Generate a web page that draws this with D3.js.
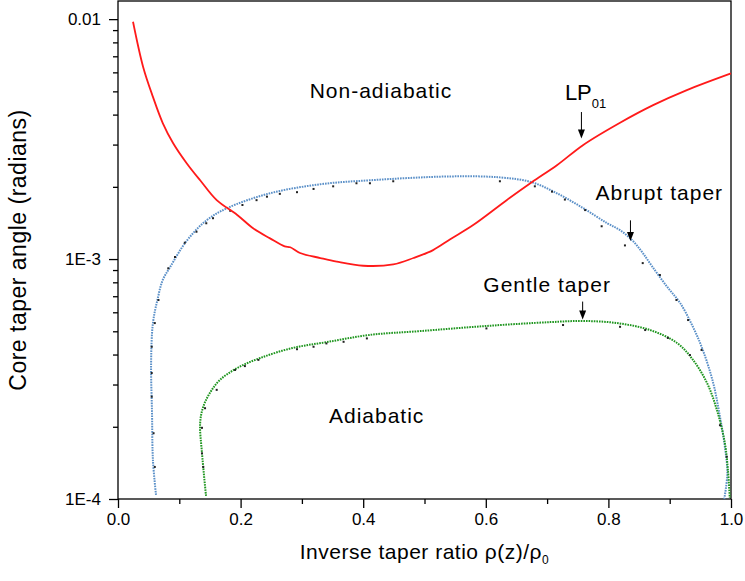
<!DOCTYPE html>
<html lang="en">
<head>
  <meta charset="UTF-8">
  <title>Core taper angle vs inverse taper ratio</title>
  <style>
    body { margin: 0; background: #fff; }
    svg { display: block; font-family: Arial, "Liberation Sans", sans-serif; }
    .axis path, .axis line { stroke: #000; stroke-width: 1.3; }
    .axis text { font-size: 17px; fill: #000; }
    .note { font-size: 21px; letter-spacing: 1px; fill: #000; }
  </style>
</head>
<body>
<div id="chart"></div>
<script src="https://d3js.org/d3.v7.min.js"></script>
<script>
// LP01 (red) - delineation curve
const lp01X = [0.0245, 0.041, 0.057, 0.073, 0.090, 0.112, 0.134, 0.161, 0.194, 0.221, 0.248, 0.272, 0.281, 0.297, 0.330, 0.357, 0.400, 0.449, 0.482, 0.514, 0.542, 0.580, 0.634, 0.675, 0.716, 0.759, 0.819, 0.873, 0.928, 1.0];
const lp01Y = [0.00975, 0.00632, 0.00474, 0.00369, 0.00304, 0.00251, 0.00213, 0.00176, 0.00153, 0.00134, 0.00122, 0.00113, 0.00112, 0.00106, 0.00101, 0.000975, 0.000938, 0.00095, 0.00101, 0.00109, 0.00121, 0.00139, 0.00176, 0.00209, 0.00246, 0.00299, 0.00370, 0.00438, 0.00506, 0.00594];

// abrupt taper (blue dotted)
const abruptX = [0.062, 0.057, 0.0555, 0.054, 0.057, 0.065, 0.073, 0.085, 0.113, 0.145, 0.178, 0.248, 0.330, 0.411, 0.542, 0.623, 0.675, 0.716, 0.759, 0.798, 0.819, 0.8385, 0.855, 0.871, 0.896, 0.917, 0.938, 0.954, 0.971, 0.982, 0.990, 0.994, 0.989];
const abruptY = [1.04e-4, 1.45e-4, 2.28e-4, 3.69e-4, 5.41e-4, 6.88e-4, 8.18e-4, 9.26e-4, 1.20e-3, 1.454e-3, 1.63e-3, 1.88e-3, 2.05e-3, 2.13e-3, 2.21e-3, 2.19e-3, 2.09e-3, 1.88e-3, 1.63e-3, 1.41e-3, 1.32e-3, 1.20e-3, 1.069e-3, 9.35e-4, 7.65e-4, 6.56e-4, 5.21e-4, 4.18e-4, 3.04e-4, 2.20e-4, 1.65e-4, 1.28e-4, 1.0e-4];

// gentle taper (green dotted)
const gentleX = [0.1436, 0.137, 0.134, 0.139, 0.150, 0.166, 0.194, 0.232, 0.285, 0.341, 0.411, 0.493, 0.600, 0.705, 0.759, 0.814, 0.868, 0.912, 0.938, 0.961, 0.977, 0.990, 0.995, 0.998];
const gentleY = [1.03e-4, 1.555e-4, 2.07e-4, 2.42e-4, 2.77e-4, 3.13e-4, 3.51e-4, 3.87e-4, 4.26e-4, 4.51e-4, 4.83e-4, 5.01e-4, 5.26e-4, 5.46e-4, 5.52e-4, 5.41e-4, 5.06e-4, 4.47e-4, 3.80e-4, 3.04e-4, 2.35e-4, 1.71e-4, 1.32e-4, 1.01e-4];

// measured points (small black dots)
const abruptPtsX = [0.055, 0.055, 0.055, 0.058, 0.060, 0.060, 0.066, 0.082, 0.093, 0.109, 0.128, 0.144, 0.155, 0.183, 0.203, 0.226, 0.243, 0.264, 0.292, 0.319, 0.351, 0.389, 0.411, 0.449, 0.623, 0.680, 0.708, 0.729, 0.762, 0.789, 0.827, 0.856, 0.884, 0.911, 0.930, 0.952, 0.982, 0.993];
const abruptPtsY = [4.31e-4, 3.35e-4, 2.67e-4, 1.88e-4, 1.36e-4, 5.41e-4, 6.75e-4, 9.15e-4, 1.02e-3, 1.17e-3, 1.30e-3, 1.41e-3, 1.48e-3, 1.59e-3, 1.68e-3, 1.76e-3, 1.82e-3, 1.87e-3, 1.90e-3, 1.96e-3, 2.01e-3, 2.07e-3, 2.07e-3, 2.11e-3, 2.11e-3, 2.01e-3, 1.91e-3, 1.77e-3, 1.60e-3, 1.37e-3, 1.14e-3, 9.62e-4, 8.58e-4, 6.75e-4, 5.57e-4, 4.18e-4, 2.03e-4, 1.50e-4];
const gentlePtsX = [0.139, 0.137, 0.137, 0.142, 0.161, 0.191, 0.207, 0.229, 0.292, 0.319, 0.340, 0.368, 0.406, 0.601, 0.726, 0.819, 0.860, 0.897, 0.933];
const gentlePtsY = [1.36e-4, 1.55e-4, 1.98e-4, 2.39e-4, 2.85e-4, 3.45e-4, 3.58e-4, 3.80e-4, 4.21e-4, 4.31e-4, 4.45e-4, 4.52e-4, 4.67e-4, 5.14e-4, 5.31e-4, 5.22e-4, 5.06e-4, 4.69e-4, 3.98e-4];

// axis ticks
const xMajor = [0, 0.2, 0.4, 0.6, 0.8, 1.0];
const xMinor = [0.1, 0.3, 0.5, 0.7, 0.9];
const yMajor = [1e-4, 1e-3, 1e-2];
const yMajorLabels = ["1E-4", "1E-3", "0.01"];
const yMinor = [2e-4, 3e-4, 4e-4, 5e-4, 6e-4, 7e-4, 8e-4, 9e-4, 2e-3, 3e-3, 4e-3, 5e-3, 6e-3, 7e-3, 8e-3, 9e-3];

const width = 745, height = 581;
const margin = { top: 1, right: 14, bottom: 82, left: 118 };

const svg = d3.select('#chart').append('svg')
  .attr('width', width)
  .attr('height', height);

const x = d3.scaleLinear().domain([0, 1]).range([margin.left, width - margin.right]);
const y = d3.scaleLog().domain([1e-4, 0.0119]).range([height - margin.bottom, margin.top]);

// axes
svg.append('g').attr('class', 'axis')
  .attr('transform', `translate(0,${height - margin.bottom})`)
  .call(d3.axisBottom(x).tickValues(xMajor).tickFormat(d3.format('.1f')).tickSize(9).tickPadding(5));
svg.append('g').attr('class', 'axis')
  .attr('transform', `translate(0,${height - margin.bottom})`)
  .call(d3.axisBottom(x).tickValues(xMinor).tickFormat('').tickSize(5));
svg.append('g').attr('class', 'axis')
  .attr('transform', `translate(${margin.left},0)`)
  .call(d3.axisLeft(y).tickValues(yMajor).tickFormat((d, i) => yMajorLabels[i]).tickSize(9).tickPadding(8));
svg.append('g').attr('class', 'axis')
  .attr('transform', `translate(${margin.left},0)`)
  .call(d3.axisLeft(y).tickValues(yMinor).tickFormat('').tickSize(5));
svg.selectAll('.axis .domain').remove();

// frame
svg.append('rect')
  .attr('x', margin.left).attr('y', margin.top)
  .attr('width', width - margin.right - margin.left)
  .attr('height', height - margin.bottom - margin.top)
  .attr('fill', 'none').attr('stroke', '#000').attr('stroke-width', 1.3);

// curves
const line = d3.line().x(d => x(d[0])).y(d => y(d[1])).curve(d3.curveCatmullRom.alpha(0.5));

svg.append('path')
  .datum(d3.zip(abruptX, abruptY))
  .attr('d', line)
  .attr('fill', 'none').attr('stroke', '#5b90c8').attr('stroke-width', 2)
  .attr('stroke-dasharray', '1.6 1');

svg.append('path')
  .datum(d3.zip(gentleX, gentleY))
  .attr('d', line)
  .attr('fill', 'none').attr('stroke', '#1f961f').attr('stroke-width', 2)
  .attr('stroke-dasharray', '1.6 1');

svg.append('g').selectAll('rect')
  .data(d3.zip(abruptPtsX, abruptPtsY).concat(d3.zip(gentlePtsX, gentlePtsY)))
  .enter()
  .append('rect')
  .attr('x', d => x(d[0]) - 1)
  .attr('y', d => y(d[1]) - 1)
  .attr('width', 2).attr('height', 2)
  .attr('fill', '#222');

svg.append('path')
  .datum(d3.zip(lp01X, lp01Y))
  .attr('d', line)
  .attr('fill', 'none').attr('stroke', '#ff1a1a').attr('stroke-width', 1.8);

// annotations
function note(t, xv, yv) {
  return svg.append('text').attr('class', 'note')
    .attr('x', x(xv)).attr('y', y(yv))
    .attr('text-anchor', 'middle').text(t);
}
note('Non-adiabatic', 0.429, 0.0047);
note('Adiabatic', 0.422, 2.07e-4);
note('Abrupt taper', 0.883, 1.76e-3);
note('Gentle taper', 0.70, 7.26e-4);

const lp = svg.append('text').attr('class', 'note')
  .attr('x', x(0.729)).attr('y', y(0.0046))
  .style('font-size', '22px').style('letter-spacing', '0px');
lp.append('tspan').text('LP');
lp.append('tspan').attr('dy', 8).style('font-size', '13px').text('01');

function arrow(xv, y0, y1) {
  const px = x(xv), ya = y(y0), yb = y(y1);
  svg.append('line').attr('x1', px).attr('x2', px).attr('y1', ya).attr('y2', yb - 8)
    .attr('stroke', '#000').attr('stroke-width', 1);
  svg.append('path')
    .attr('d', `M${px - 3.5},${yb - 9}L${px + 3.5},${yb - 9}L${px},${yb}Z`)
    .attr('fill', '#000');
}
arrow(0.756, 0.00410, 0.00318);
arrow(0.836, 1.45e-3, 1.19e-3);
arrow(0.758, 6.65e-4, 5.60e-4);

// axis titles
svg.append('text')
  .attr('transform', `translate(26,${(margin.top + height - margin.bottom) / 2}) rotate(-90)`)
  .attr('text-anchor', 'middle')
  .style('font-size', '23px').style('letter-spacing', '0.5px')
  .text('Core taper angle (radians)');

const xt = svg.append('text')
  .attr('x', (margin.left + width - margin.right) / 2)
  .attr('y', 559)
  .attr('text-anchor', 'middle')
  .style('font-size', '21px').style('letter-spacing', '0.5px');
xt.append('tspan').text('Inverse taper ratio \u03C1(z)/\u03C1');
xt.append('tspan').attr('dy', 5).style('font-size', '12px').text('0');
</script>
</body>
</html>
